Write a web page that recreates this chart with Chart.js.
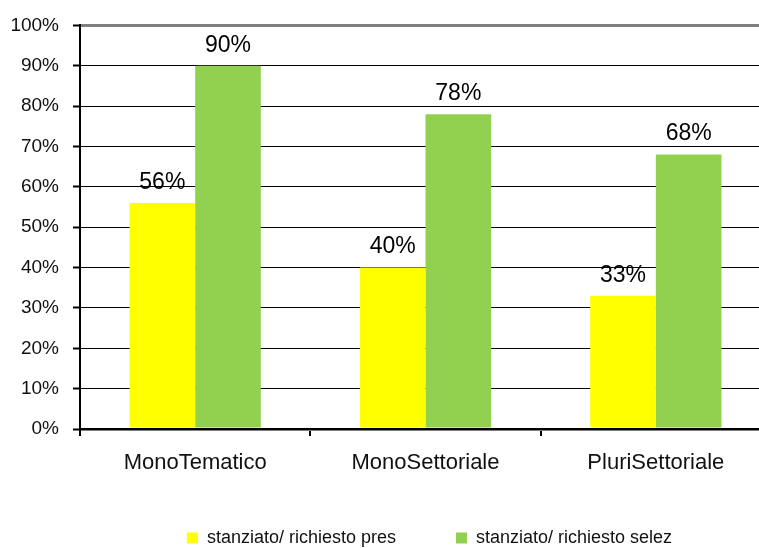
<!DOCTYPE html>
<html>
<head>
<meta charset="utf-8">
<script src="https://cdn.jsdelivr.net/npm/chart.js@4.4.1/dist/chart.umd.min.js"></script>
<style>
  html, body { margin: 0; padding: 0; background: #fff; overflow: hidden; }
  #wrap { width: 771px; height: 548px; position: relative; }
</style>
</head>
<body>
<div id="wrap"><canvas id="chart"></canvas></div>
<script>
const categories = ['MonoTematico', 'MonoSettoriale', 'PluriSettoriale'];
const presValues = [56, 40, 33];
const selezValues = [90, 78, 68];
const seriesNames = ['stanziato/ richiesto pres', 'stanziato/ richiesto selez'];

const narrow = '"Liberation Sans Narrow", "Arial Narrow", "Liberation Sans", Arial, sans-serif';

// percent labels above each bar
const barLabels = {
    id: 'barLabels',
    afterDatasetsDraw(chart) {
        const ctx = chart.ctx;
        ctx.save();
        ctx.font = '23px "Liberation Sans", Arial, sans-serif';
        ctx.fillStyle = '#000';
        ctx.textAlign = 'center';
        ctx.textBaseline = 'bottom';
        chart.data.datasets.forEach((ds, i) => {
            chart.getDatasetMeta(i).data.forEach((bar, j) => {
                ctx.fillText(ds.data[j] + '%', bar.x, bar.y - 9);
            });
        });
        ctx.restore();
    }
};

// legend sits a bit right of the canvas centre
const legendShift = {
    id: 'legendShift',
    afterLayout(chart) {
        if (chart.legend) {
            chart.legend.left += 44;
            chart.legend.right += 44;
        }
    }
};

document.addEventListener('DOMContentLoaded', () => {
    const ctx = document.getElementById('chart').getContext('2d');
    new Chart(ctx, {
        type: 'bar',
        data: {
            labels: categories,
            datasets: [{
                label: seriesNames[0],
                data: presValues,
                backgroundColor: '#FFFF00'
            }, {
                label: seriesNames[1],
                data: selezValues,
                backgroundColor: '#92D050'
            }]
        },
        options: {
            responsive: true,
            maintainAspectRatio: false,
            animation: false,
            layout: { padding: { top: 11, bottom: -9, left: 0, right: 0 } },
            datasets: {
                bar: { categoryPercentage: 0.57, barPercentage: 1.0 }
            },
            scales: {
                x: {
                    grid: {
                        offset: true,
                        drawOnChartArea: false,
                        drawTicks: true,
                        tickLength: 7,
                        color: '#000',
                        lineWidth: 2
                    },
                    border: { color: '#000', width: 2 },
                    ticks: {
                        color: '#111',
                        padding: 14,
                        font: { family: narrow, size: 22 }
                    },
                    afterFit(scale) { scale.height = 40; }
                },
                y: {
                    min: 0,
                    max: 100,
                    ticks: {
                        stepSize: 10,
                        color: '#111',
                        padding: 14,
                        font: { family: narrow, size: 19 },
                        callback: v => v + '%'
                    },
                    grid: {
                        tickLength: 7,
                        color: ctx => (ctx.tick && (ctx.tick.value === 100 || ctx.tick.value === 0)) ? '#808080' : '#000',
                        lineWidth: ctx => (ctx.tick && (ctx.tick.value === 100 || ctx.tick.value === 0)) ? 3 : 1,
                        tickColor: '#000',
                        tickWidth: 2
                    },
                    border: { color: '#000', width: 2 },
                    afterFit(scale) { scale.width = 80; }
                }
            },
            plugins: {
                tooltip: { enabled: false },
                legend: {
                    position: 'bottom',
                    labels: {
                        boxWidth: 11,
                        boxHeight: 11,
                        padding: 60,
                        color: '#111',
                        font: { family: narrow, size: 18 }
                    }
                }
            }
        },
        plugins: [barLabels, legendShift]
    });
});
</script>
</body>
</html>
